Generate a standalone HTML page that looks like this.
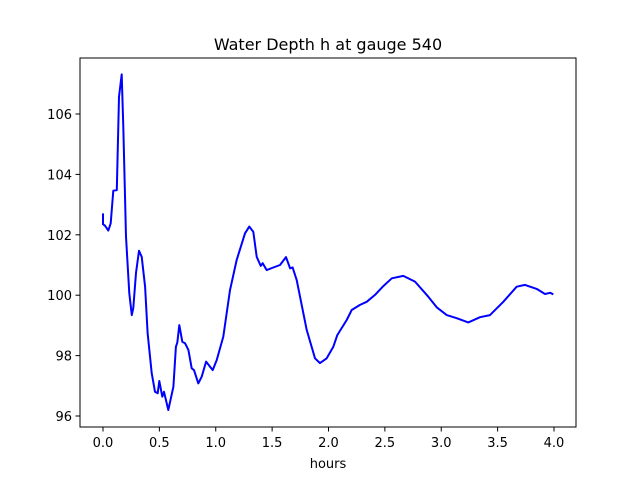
<!DOCTYPE html>
<html><head><meta charset="utf-8"><style>
body{margin:0;background:#fff;font-family:"Liberation Sans","DejaVu Sans",sans-serif;}
svg text{font-family:"DejaVu Sans","Liberation Sans",sans-serif;}
</style></head><body>
<svg id="chart" width="640" height="480" xmlns="http://www.w3.org/2000/svg">
<rect width="640" height="480" fill="#fff"/>
<text x="328" y="50" font-size="16" text-anchor="middle">Water Depth h at gauge 540</text>
<text x="328" y="468" font-size="13" text-anchor="middle">hours</text>
<g id="ticks"></g>
<path id="series" fill="none" stroke="#0000ff" stroke-width="2" stroke-linejoin="round"/>
<rect x="80" y="58" width="496" height="369" fill="none" stroke="#000" stroke-width="1"/>
</svg>
<script>
const hours=[0,0,0.018,0.047,0.068,0.091,0.122,0.142,0.166,0.180,0.204,0.233,0.255,0.269,0.293,0.319,0.343,0.373,0.396,0.432,0.461,0.485,0.499,0.526,0.541,0.579,0.624,0.647,0.659,0.677,0.703,0.727,0.757,0.787,0.807,0.845,0.875,0.914,0.973,1.008,1.067,1.126,1.186,1.259,1.298,1.333,1.363,1.399,1.416,1.452,1.499,1.570,1.623,1.659,1.682,1.718,1.807,1.880,1.925,1.984,2.043,2.078,2.161,2.206,2.279,2.339,2.412,2.486,2.561,2.663,2.767,2.885,2.960,3.048,3.137,3.240,3.344,3.432,3.550,3.669,3.743,3.847,3.920,3.965,3.994];
const depth=[102.71,102.35,102.30,102.14,102.38,103.46,103.48,106.57,107.31,105.58,101.94,100.06,99.34,99.58,100.74,101.47,101.27,100.28,98.75,97.42,96.80,96.75,97.16,96.64,96.80,96.20,96.97,98.29,98.43,99.01,98.46,98.41,98.19,97.58,97.52,97.08,97.30,97.80,97.52,97.85,98.63,100.17,101.17,102.05,102.27,102.10,101.27,100.97,101.06,100.83,100.90,101.00,101.26,100.89,100.92,100.50,98.85,97.91,97.75,97.91,98.29,98.68,99.18,99.51,99.68,99.78,100.01,100.30,100.56,100.64,100.45,99.95,99.60,99.34,99.24,99.10,99.27,99.34,99.78,100.28,100.34,100.21,100.04,100.08,100.03];
const xTicks=[0,0.5,1,1.5,2,2.5,3,3.5,4];
const xTickLabels=["0.0","0.5","1.0","1.5","2.0","2.5","3.0","3.5","4.0"];
const yTicks=[96,98,100,102,104,106];
const yTickLabels=["96","98","100","102","104","106"];
const X=t=>103+t*112.75;
const Y=h=>114+(106-h)*30.2;
const NS="http://www.w3.org/2000/svg";
const g=document.getElementById('ticks');
xTicks.forEach((t,i)=>{
  const l=document.createElementNS(NS,'line');
  
  
  l.setAttribute('x1',X(t));l.setAttribute('x2',X(t));l.setAttribute('y1',427);l.setAttribute('y2',431.5);l.setAttribute('stroke','#000');
  g.appendChild(l);
  const tx=document.createElementNS(NS,'text');
  
  
  tx.setAttribute('x',X(t));tx.setAttribute('y',447);tx.setAttribute('font-size','13');tx.setAttribute('text-anchor','middle');
  tx.textContent=xTickLabels[i];g.appendChild(tx);
});
yTicks.forEach((h,i)=>{
  const l=document.createElementNS(NS,'line');
  
  
  l.setAttribute('x1',75.5);l.setAttribute('x2',80);l.setAttribute('y1',Y(h));l.setAttribute('y2',Y(h));l.setAttribute('stroke','#000');
  g.appendChild(l);
  const tx=document.createElementNS(NS,'text');
  
  
  tx.setAttribute('x',72);tx.setAttribute('y',Y(h)+5);tx.setAttribute('font-size','13');tx.setAttribute('text-anchor','end');
  tx.textContent=yTickLabels[i];g.appendChild(tx);
});
document.getElementById('series').setAttribute('d',hours.map((t,i)=>(i?'L':'M')+X(t).toFixed(1)+','+Y(depth[i]).toFixed(1)).join(''));
</script>
</body></html>
